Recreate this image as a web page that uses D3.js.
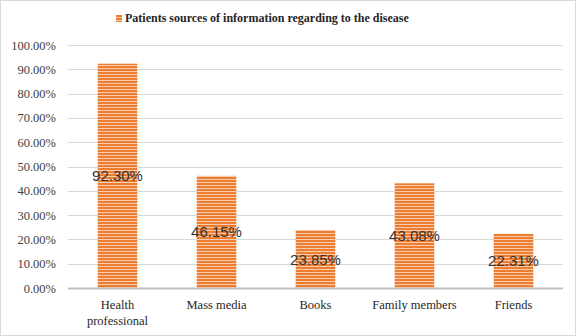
<!DOCTYPE html>
<html><head><meta charset="utf-8">
<script src="https://cdn.jsdelivr.net/npm/d3@7"></script>
<style>body{margin:0;background:#fff}svg{display:block}
.serif{font-family:"Liberation Serif","Times New Roman",serif}
.sans{font-family:"Liberation Sans",Arial,sans-serif}
</style>
</head><body>
<script>
const categories = ["Health professional", "Mass media", "Books", "Family members", "Friends"];
const values = [92.30, 46.15, 23.85, 43.08, 22.31];
const tickValues = [0,10,20,30,40,50,60,70,80,90,100];
const seriesName = "Patients sources of information regarding to the disease";

const W = 576, H = 336;
const svg = d3.select("body").append("svg").attr("width", W).attr("height", H);
svg.append("rect").attr("x",0.5).attr("y",0.5).attr("width",W-1).attr("height",H-1)
  .attr("fill","#fff").attr("stroke","#d9d9d9");

const defs = svg.append("defs");
const pat = defs.append("pattern").attr("id","stripes").attr("patternUnits","userSpaceOnUse")
  .attr("width",6).attr("height",3);
pat.append("rect").attr("width",6).attr("height",3).attr("fill","#ED7D31");
pat.append("rect").attr("y",2).attr("width",6).attr("height",1).attr("fill","#F8CBAD");

const m = {left:68, right:563, top:45, bottom:288};
const x = d3.scaleBand().domain(categories).range([m.left, m.right]).paddingInner(0.6).paddingOuter(0.3);
const y = d3.scaleLinear().domain([0,100]).range([m.bottom, m.top]);

// grid
svg.append("g").selectAll("line").data(tickValues.filter(d=>d>0)).join("line")
  .attr("x1", m.left).attr("x2", m.right)
  .attr("y1", d=>Math.round(y(d))+0.5).attr("y2", d=>Math.round(y(d))+0.5)
  .attr("stroke","#d9d9d9").attr("stroke-width",1);

// y axis labels
const yAxis = d3.axisLeft(y).tickValues(tickValues).tickSize(0).tickPadding(0)
  .tickFormat(d=>d.toFixed(2)+"%");
const yg = svg.append("g").attr("transform",`translate(${m.left-12},0)`).call(yAxis);
yg.attr("font-family",null).attr("font-size",null);
yg.select(".domain").remove();
yg.selectAll("text").attr("class","serif").style("font-size","12.5px").attr("fill","#404040");

// bars
svg.append("g").selectAll("rect").data(values).join("rect")
  .attr("x",(d,i)=>x(categories[i])).attr("width",x.bandwidth())
  .attr("y",d=>y(d)).attr("height",d=>y(0)-y(d))
  .attr("fill","url(#stripes)");

// x axis
svg.append("line").attr("x1",m.left).attr("x2",m.right).attr("y1",m.bottom+0.5).attr("y2",m.bottom+0.5)
  .attr("stroke","#bfbfbf").attr("stroke-width",2);

const xl = svg.append("g").selectAll("text").data(categories).join("text")
  .attr("class","serif")
  .attr("x",d=>x(d)+x.bandwidth()/2).attr("y",m.bottom+21)
  .attr("text-anchor","middle")
  .style("font-size","12.5px").attr("fill","#262626");
xl.each(function(d){
  const t = d3.select(this);
  const lines = d === "Health professional" ? ["Health","professional"] : [d];
  lines.forEach((l,k)=>t.append("tspan").attr("x",t.attr("x")).attr("dy",k===0?0:16).text(l));
});

// value labels
svg.append("g").selectAll("text").data(values).join("text")
  .attr("class","sans")
  .attr("x",(d,i)=>x(categories[i])+x.bandwidth()/2)
  .attr("y",d=>(y(d)+y(0))/2+5.5)
  .attr("text-anchor","middle")
  .style("font-size","15px").attr("fill","#333333")
  .text(d=>d.toFixed(2)+"%");

// legend
const lg = svg.append("g");
lg.append("rect").attr("x",116).attr("y",15).attr("width",6).attr("height",7).attr("fill","url(#stripes)");
lg.append("text").attr("class","serif").attr("x",125).attr("y",22)
  .attr("font-weight","bold")
  .style("font-size","12px").attr("fill","#262626").text(seriesName);
</script>
</body></html>
